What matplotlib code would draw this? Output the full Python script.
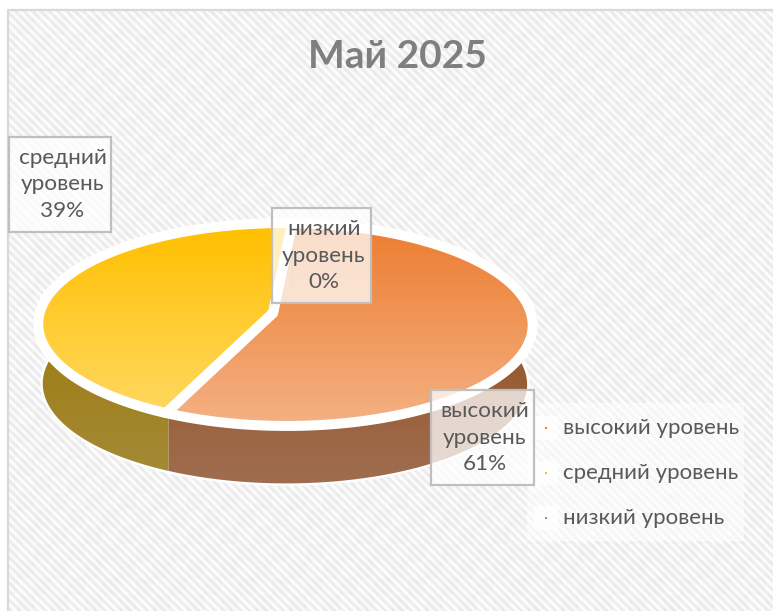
import matplotlib
matplotlib.use("Agg")
import matplotlib.pyplot as plt
import numpy as np
from matplotlib.patches import Polygon, Rectangle

plt.rcParams['font.family'] = ['Lato', 'Open Sans', 'DejaVu Sans']

title = "Май 2025"
categories = ["высокий уровень", "средний уровень", "низкий уровень"]
values = [61, 39, 0]
label_lines = ["высокий\nуровень\n61%", "средний\nуровень\n39%", "низкий\nуровень\n0%"]
legend_colors = ["#ED7D31", "#FFC000", "#70AD47"]

W, H = 773, 611
HUB_X, HUB_Y = 273, 313
DEPTH = 56

fig = plt.figure(figsize=(W / 100, H / 100), dpi=100)
fig.patch.set_facecolor("white")


def to_screen(pts, rx=1.0):
    # fake 3d: bend the clockwise angle a bit, then a perspective tilt
    u, v = pts[:, 0], pts[:, 1]
    r = np.hypot(u, v)
    t = np.arctan2(u, v)
    t = t + np.radians(33) * np.sin(t) + np.radians(5)
    u, v = r * np.sin(t) * rx, r * np.cos(t) * rx
    w = 1 - 0.05 * u + 0.1134 * v
    return np.column_stack([HUB_X + 245 * u / w, HUB_Y - 100 * v / w])


def gradient_fill(ax, poly, top, bottom, y0, y1):
    ramp = np.linspace(0, 1, 128)[:, None, None]
    img = (1 - ramp) * np.array(top)[None, None, :] + ramp * np.array(bottom)[None, None, :]
    x0, x1 = poly[:, 0].min() - 5, poly[:, 0].max() + 5
    im = ax.imshow(img / 255, extent=(x0, x1, y1, y0), aspect="auto", zorder=3, interpolation="bilinear")
    clip = Polygon(poly, closed=True, transform=ax.transData)
    im.set_clip_path(clip)


# shapes come from the library pie, on a throwaway axes
tmp = fig.add_axes([0, 0, 0.1, 0.1])
wedges, _ = tmp.pie(values, startangle=90, counterclock=False, radius=1)
arcs = []
for w in wedges:
    a = np.radians(np.linspace(w.theta1, w.theta2, 300))
    arcs.append(np.column_stack([np.cos(a), np.sin(a)]) * w.r)
fig.delaxes(tmp)

ax = fig.add_axes([0, 0, 1, 1])
ax.set_xlim(0, W)
ax.set_ylim(H, 0)
ax.axis("off")

# textile background: diagonal stripes and faint squares
yy, xx = np.mgrid[0:H, 0:W]
stripes = 0.5 + 0.5 * np.cos(2 * np.pi * (xx - yy) / 8.5)
bands = ((xx // 17 + yy // 17) % 2) * 3.0
bg = 232 + 19 * stripes + bands
bg = np.clip(bg, 0, 255) / 255
ax.imshow(bg, cmap="gray", vmin=0, vmax=1, extent=(0, W, H, 0), aspect="auto", zorder=0, interpolation="nearest")
ax.add_patch(Rectangle((0, 0), W, 9, fc="white", ec="none", zorder=1))
ax.add_patch(Rectangle((0, 0), 8, H, fc="white", ec="none", zorder=1))
ax.plot([8, 8, W], [H, 10, 10], color="#D9D9D9", lw=1.6, zorder=1)

ax.text(397, 57, title, ha="center", va="center", fontsize=28, fontweight="bold", color="#7F7F7F", zorder=6)

# side wall
side_cols = [((150, 86, 42), (160, 110, 82)), ((158, 124, 20), (165, 140, 58))]
walls = []
for i, arc in enumerate(arcs[:2]):
    rim = to_screen(arc, 0.98) + [0, 4]
    walls.append(np.vstack([rim, (rim + [0, DEPTH])[::-1]]))
    ax.add_patch(Polygon(walls[i], closed=True, fc="white", ec="white", lw=3.5, zorder=1.5))
for i, wall in enumerate(walls):
    gradient_fill(ax, wall, side_cols[i][0], side_cols[i][1], 330, 490)
# seam between the two wall colours
seam = to_screen(arcs[0][-1:], 0.98) + [0, 4]
ax.plot([seam[0, 0], seam[0, 0]], [seam[0, 1], seam[0, 1] + DEPTH], color="#B08A1E", lw=0.8, zorder=3.5)

# top face
top_cols = [((237, 125, 49), (244, 177, 131)), ((255, 192, 0), (255, 217, 102))]
for i, arc in enumerate(arcs[:2]):
    pts = to_screen(np.vstack([[[0, 0]], arc]))
    gradient_fill(ax, pts, top_cols[i][0], top_cols[i][1], 225, 425)
    ax.add_patch(Polygon(pts, closed=True, fc="none", ec="white", lw=7.2, joinstyle="round", zorder=4))

# data labels
boxes = [(431, 390, 103, 95), (9, 137, 102, 95), (272, 208, 99, 95)]
for (x, y, w, h), txt in zip(boxes, label_lines):
    ax.add_patch(Rectangle((x, y), w, h, fc=(1, 1, 1, 0.75), ec="#BFBFBF", lw=1.6, zorder=5))
    ax.text(x + w / 2 + 2.5, y + h / 2, txt, ha="center", va="center", fontsize=16.2, color="#595959",
            linespacing=1.42, zorder=6)

# legend
ax.add_patch(Rectangle((527, 403), 217, 138, fc=(1, 1, 1, 0.55), ec="none", zorder=2))
for i, name in enumerate(categories):
    y = 428 + i * 45
    ax.add_patch(Rectangle((534, y - 12), 24, 24, fc=(1, 1, 1, 0.8), ec="none", zorder=2))
    ax.plot([546], [y], marker="s", ms=1.6, mew=0, color=legend_colors[i], zorder=3)
    ax.text(563, y, name, ha="left", va="center", fontsize=16, color="#595959", zorder=6)

fig.savefig("out.png", dpi=100)
